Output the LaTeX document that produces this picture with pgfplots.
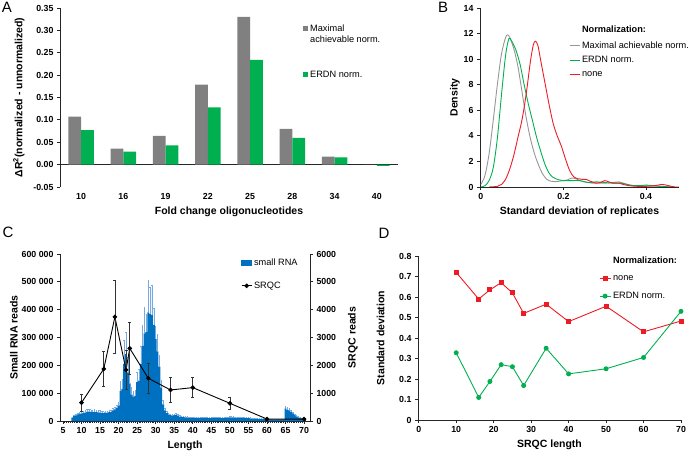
\documentclass[border=0pt]{standalone}
\usepackage{fontspec}
\setmainfont{Liberation Sans}
\usepackage{pgfplots}
\usepackage{pgfplotstable}
\pgfplotsset{compat=1.18}

\definecolor{bargray}{RGB}{128,128,128}
\definecolor{xlgreen}{RGB}{0,176,80}
\definecolor{linegray}{RGB}{150,150,150}
\definecolor{xlred}{RGB}{237,28,36}
\definecolor{rnablue}{RGB}{0,112,192}
\definecolor{errblue}{RGB}{120,170,225}

% small RNA read length histogram (thousands of reads)
\pgfplotstableread{
L v e
7.5 12 3
8 18 4
8.5 20 4
9 24 5
9.5 26 5
10 27 6
10.5 28 6
11 30 7
11.5 33 8
12 34 8
12.5 33 8
13 32 7
13.5 33 8
14 32 7
14.5 31 7
15 30 7
15.5 29 6
16 28 6
16.5 29 6
17 30 6
17.5 32 7
18 33 7
18.5 38 8
19 42 9
19.5 48 10
20 55 12
20.5 108 35
21 115 35
21.5 205 85
22 240 80
22.5 175 55
23 135 45
23.5 95 25
24 88 20
24.5 90 22
25 140 35
25.5 145 40
26 205 65
26.5 270 75
27 315 95
27.5 320 65
28 390 115
28.5 385 95
29 380 108
29.5 345 60
30 295 45
30.5 250 60
31 195 40
31.5 120 25
32 60 15
32.5 38 8
33 28 6
33.5 24 5
34 21 5
34.5 19 4
35 21 5
35.5 22 5
36 19 4
36.5 16 4
37 15 3
37.5 14 3
38 13 3
38.5 13 3
39 12 3
39.5 12 3
40 12 3
40.5 12 3
41 11 3
41.5 11 3
42 11 3
42.5 11 3
43 11 3
43.5 10 3
44 10 3
44.5 10 3
45 10 3
45.5 10 3
46 10 3
46.5 10 3
47 10 3
47.5 10 3
48 10 3
48.5 11 3
49 11 3
49.5 12 3
50 13 3
50.5 13 3
51 13 3
51.5 12 3
52 12 3
52.5 12 3
53 11 3
53.5 11 3
54 11 3
54.5 10 3
55 10 3
55.5 10 2
56 9 2
56.5 9 2
57 9 2
57.5 8 2
58 8 2
58.5 8 2
59 7 2
59.5 7 2
60 7 2
60.5 6 2
61 6 2
61.5 6 2
62 5 2
62.5 5 2
63 5 2
63.5 5 2
64 5 2
64.5 6 2
65 45 8
65.5 40 8
66 38 7
66.5 33 6
67 27 5
67.5 22 4
68 17 3
68.5 13 3
69 11 2
69.5 9 2
70 7 2
}\rnatable

\pgfplotstableread{
L v e
10 660 300
16 1870 620
19 3740 1320
22 1835 700
23 2610 940
28 1535 530
34 1115 450
40 1200 360
50 636 230
60 70 40
70 70 40
}\srqctable

\pgfplotsset{
  panel/.style={
    scale only axis,
    anchor=south west,
    axis line style={black!85, line width=0.8pt},
    tick style={black!85, line width=0.8pt},
    tick align=outside,
    major tick length=3pt,
    minor tick length=1.5pt,
    tick label style={font=\bfseries\fontsize{8.8}{10.5}\selectfont},
    label style={font=\bfseries\fontsize{10.5}{12.5}\selectfont},
    /pgf/number format/assume math mode=true,
    legend style={draw=none, fill=none, font=\fontsize{9.2}{11}\selectfont, inner sep=0pt},
    legend cell align=left,
  },
}

\begin{document}
\begin{tikzpicture}
\path[use as bounding box] (0pt,0pt) rectangle (696pt,464pt);

% ---------------- A
\begin{axis}[panel, at={(60pt,277pt)}, width=338pt, height=179pt,
  ybar=0pt, bar width=0.3,
  xmin=-0.5, xmax=7.5, ymin=-0.05, ymax=0.35,
  axis y line*=left, axis x line*=bottom, x axis line style={draw=none},
  xtick={0,...,7}, xticklabels={10,16,19,22,25,28,34,40}, xtick style={draw=none},
  ytick={-0.05,0,0.05,0.1,0.15,0.2,0.25,0.3,0.35},
  yticklabel style={/pgf/number format/.cd, fixed, fixed zerofill, precision=2},
  extra y ticks={0}, extra y tick labels={},
  extra y tick style={grid=major, major grid style={black!85, line width=0.8pt}},
  xlabel={Fold change oligonucleotides},
  ylabel={ΔR\textsuperscript{2}(normalized - unnormalized)}, ylabel shift=-4pt,
  legend style={at={(0.719,0.92)}, anchor=north west, cells={align=left}, row sep=23pt},
  legend image code/.code={\fill[#1] (0pt,-2.5pt) rectangle (5pt,2.5pt);},
]
\addplot[fill=bargray, draw=none,
  legend image code/.code={\fill[bargray] (0pt,3pt) rectangle (5pt,8pt);}]
  coordinates {(0,0.107) (1,0.036) (2,0.064) (3,0.179) (4,0.33) (5,0.08) (6,0.018) (7,0.0)};
\addlegendentry{Maximal\\achievable norm.}
\addplot[fill=xlgreen, draw=none] coordinates {(0,0.077) (1,0.029) (2,0.043) (3,0.128) (4,0.234) (5,0.06) (6,0.016) (7,-0.003)};
\addlegendentry{ERDN norm.}
\end{axis}

% ---------------- B  (x in hundredths of a standard deviation unit)
\begin{axis}[panel, at={(480pt,277pt)}, width=199pt, height=179pt,
  xmin=-0.2, xmax=48, ymin=0, ymax=14,
  axis lines*=left,
  xtick={0,20,40}, xticklabels={0,0.2,0.4}, ytick={0,2,4,6,8,10,12,14},
  xlabel={Standard deviation of replicates}, ylabel={Density}, ylabel shift=-3pt,
  legend style={at={(0.447,0.91)}, anchor=north west, row sep=3pt},
  legend image code/.code={\draw[#1] (0pt,0pt) -- (10pt,0pt);},
]
\addlegendimage{empty legend}\addlegendentry{\textbf{Normalization:}}
\addplot[linegray, line width=0.9pt, smooth] coordinates {
(0,0.2) (1,0.9) (2,2.6) (3,5.2) (4,8.0) (5,10.4) (6,11.7) (6.5,11.9)
(7,11.7) (8,10.8) (9,9.4) (10,7.4) (11,5.4) (12,3.8) (13,2.6) (14,1.7)
(15,1.0) (16,0.6) (17,0.45) (18,0.42) (19,0.45) (20,0.5) (21,0.55) (22,0.7)
(23,0.65) (24,0.5) (25,0.4) (26,0.35) (27,0.3) (28,0.3) (30,0.3) (32,0.35)
(33.5,0.4) (35,0.25) (37,0.1) (39,0.1) (41,0.08) (43,0.05) (45,0.02) (47,0)};
\addlegendentry{Maximal achievable norm.}
\addplot[xlgreen, line width=0.9pt, smooth] coordinates {
(0,0) (1,0.1) (2,0.5) (3,1.5) (4,3.8) (5,7.2) (6,10.3) (6.8,11.6)
(7.5,11.4) (8.5,10.7) (9.5,9.6) (10.5,8.0) (11.5,6.5) (12.5,5.2) (13.5,3.9)
(14.5,2.8) (15.5,1.8) (16.5,1.1) (17.5,0.75) (19,0.55) (20,0.5) (22,0.5) (24,0.5)
(26,0.35) (28,0.4) (30,0.35) (32,0.3) (34,0.3) (36,0.15) (38,0.1) (40,0.15)
(42,0.1) (44,0.05) (46,0)};
\addlegendentry{ERDN norm.}
\addplot[xlred, line width=0.9pt, smooth] coordinates {
(2,0) (4,0.05) (5,0.2) (6,0.6) (7,1.4) (8,2.5) (9,3.9) (10,5.3)
(11,7.3) (12,9.8) (12.7,11.1) (13.2,11.4) (13.8,11.1) (14.5,9.9) (15.5,8.2)
(16.5,6.5) (17.5,5.0) (18.5,4.0) (19.5,3.2) (20.5,2.2) (21.5,1.3) (22.5,0.8)
(23.5,0.65) (24.5,0.6) (25.5,0.6) (26.5,0.45) (28,0.3) (29,0.35) (30,0.5)
(31,0.4) (32,0.3) (33.5,0.3) (34.5,0.2) (36,0.1) (38,0.05) (40,0.05) (42,0.1)
(44,0.2) (45.5,0.1) (47,0) (48,0)};
\addlegendentry{none}
\end{axis}

% ---------------- C
\begin{axis}[panel, at={(60pt,43pt)}, width=250pt, height=167pt,
  ybar, bar width=0.5,
  xmin=4.2, xmax=71.6, ymin=0, ymax=600,
  axis x line*=bottom, axis y line*=left,
  xtick={5,10,...,70}, minor x tick num=9,
  ytick={0,100,200,300,400,500,600},
  yticklabels={0,100 000,200 000,300 000,400 000,500 000,600 000},
  xlabel={Length}, ylabel={Small RNA reads}, ylabel shift=-3pt,
]
\addplot[fill=rnablue, draw=none,
  error bars/.cd, y dir=plus, y explicit,
  error bar style={errblue, line width=0.5pt},
  error mark options={errblue, rotate=90, mark size=0.7pt, line width=0.5pt}]
  table[x=L, y=v, y error=e] {\rnatable};
\end{axis}
\begin{axis}[panel, at={(60pt,43pt)}, width=250pt, height=167pt,
  xmin=4.2, xmax=71.6, ymin=0, ymax=6000,
  axis x line=none, axis y line*=right,
  ytick={0,1000,2000,3000,4000,5000,6000},
  yticklabel style={/pgf/number format/1000 sep={}},
  ylabel={SRQC reads}, ylabel shift=5pt,
  legend style={at={(0.724,0.985)}, anchor=north west, row sep=11pt},
  legend image code/.code={\draw[mark repeat=2, mark phase=2, #1] plot coordinates {(0pt,0pt) (5pt,0pt) (10pt,0pt)};},
]
\addlegendimage{legend image code/.code={\fill[rnablue] (0pt,-2.5pt) rectangle (10pt,2.5pt);}}
\addlegendentry{small RNA}
\addplot[black, line width=0.9pt, mark=*, mark size=1.8pt,
  error bars/.cd, y dir=both, y explicit,
  error bar style={black!80, line width=0.7pt},
  error mark options={black!80, rotate=90, mark size=1.5pt, line width=0.7pt}]
  table[x=L, y=v, y error=e] {\srqctable};
\addlegendentry{SRQC}
\end{axis}

% ---------------- D
\begin{axis}[panel, at={(418pt,44pt)}, width=263pt, height=164pt,
  xmin=-0.2, xmax=70, ymin=0, ymax=0.8, clip=false,
  axis lines*=left,
  xtick={0,10,20,30,40,50,60,70}, ytick={0,0.1,0.2,0.3,0.4,0.5,0.6,0.7,0.8},
  xlabel={SRQC length}, ylabel={Standard deviation}, ylabel shift=8pt,
  legend style={at={(0.688,1.01)}, anchor=north west, row sep=6.5pt},
  legend image code/.code={\draw[mark repeat=2, mark phase=2, #1] plot coordinates {(0pt,0pt) (5.5pt,0pt) (11pt,0pt)};},
]
\addlegendimage{empty legend}\addlegendentry{\textbf{Normalization:}}
\addplot[xlred, line width=0.9pt, mark=square*, mark size=2pt] coordinates {
(10,0.72) (16,0.59) (19,0.635) (22,0.67) (25,0.62) (28,0.52) (34,0.565) (40,0.48) (50,0.555) (60,0.43) (70,0.483)};
\addlegendentry{none}
\addplot[xlgreen, line width=0.9pt, mark=*, mark size=2pt] coordinates {
(10,0.328) (16,0.11) (19,0.188) (22,0.27) (25,0.26) (28,0.168) (34,0.35) (40,0.225) (50,0.25) (60,0.305) (70,0.53)};
\addlegendentry{ERDN norm.}
\end{axis}

\node[font=\fontsize{15}{15}\selectfont] at (7pt,457pt) {A};
\node[font=\fontsize{15}{15}\selectfont] at (443pt,456.5pt) {B};
\node[font=\fontsize{15}{15}\selectfont] at (8pt,232pt) {C};
\node[font=\fontsize{15}{15}\selectfont] at (384pt,231pt) {D};
\end{tikzpicture}
\end{document}
